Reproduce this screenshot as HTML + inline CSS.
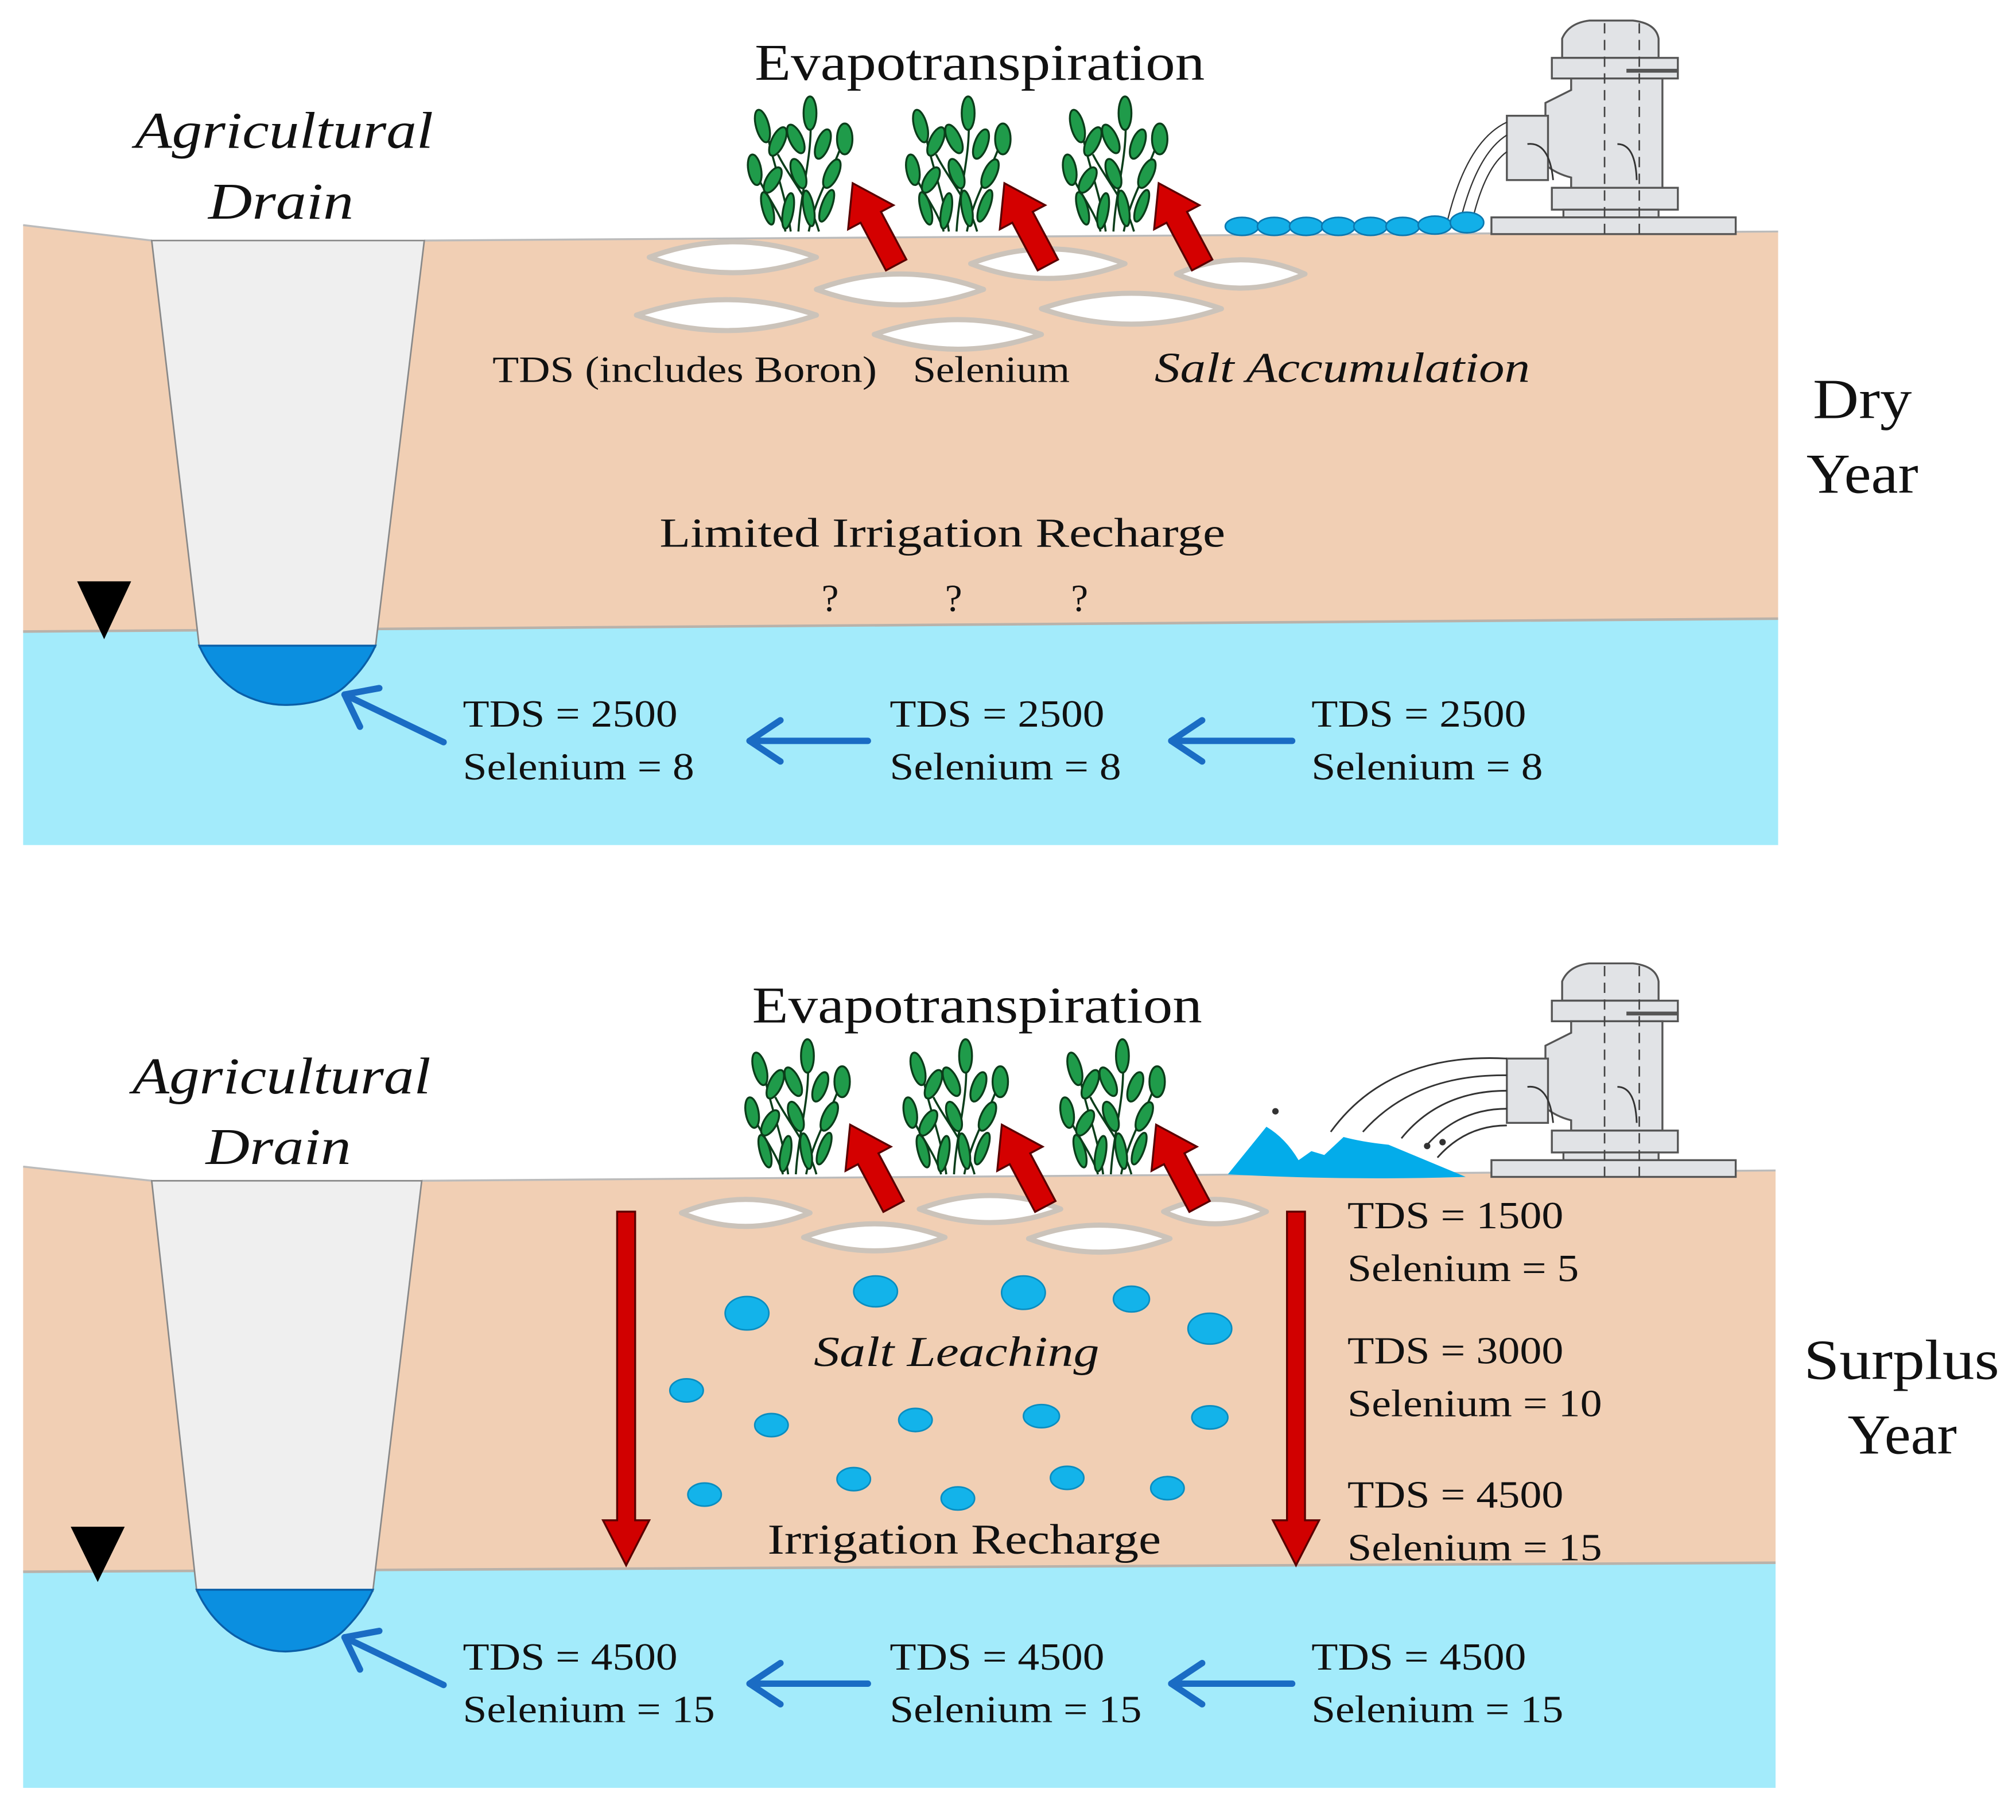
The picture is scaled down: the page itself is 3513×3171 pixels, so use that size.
<!DOCTYPE html>
<html><head><meta charset="utf-8"><style>
html,body{margin:0;padding:0;background:#fff;}
svg{display:block;}
text{font-family:"Liberation Serif","Times New Roman",serif;fill:#111;}
</style></head><body>
<svg width="3513" height="3171" viewBox="0 0 1568 1415" preserveAspectRatio="none" xmlns="http://www.w3.org/2000/svg">
<defs>
  <g id="plant">
    <g stroke="#0b3d1a" stroke-width="1.6" fill="none">
      <path d="M-10,0 C-14,-30 -25,-55 -30,-85"/>
      <path d="M-4,0 C-2,-35 8,-60 5,-95"/>
      <path d="M4,0 C10,-30 25,-50 32,-75"/>
      <path d="M-14,0 C-20,-20 -35,-35 -38,-50"/>
      <path d="M12,0 C5,-25 -10,-40 -20,-60"/>
    </g>
    <g fill="#1f9b4a" stroke="#0b3d1a" stroke-width="1.5">
      <ellipse cx="-32" cy="-82" rx="5" ry="13" transform="rotate(-15 -32 -82)"/>
      <ellipse cx="-20" cy="-70" rx="5" ry="12" transform="rotate(25 -20 -70)"/>
      <ellipse cx="5" cy="-92" rx="5" ry="13"/>
      <ellipse cx="-6" cy="-72" rx="5" ry="12" transform="rotate(-25 -6 -72)"/>
      <ellipse cx="15" cy="-68" rx="5" ry="12" transform="rotate(20 15 -68)"/>
      <ellipse cx="32" cy="-72" rx="6" ry="12"/>
      <ellipse cx="-38" cy="-48" rx="5" ry="12" transform="rotate(-10 -38 -48)"/>
      <ellipse cx="-24" cy="-40" rx="5" ry="11" transform="rotate(30 -24 -40)"/>
      <ellipse cx="-4" cy="-45" rx="5" ry="12" transform="rotate(-20 -4 -45)"/>
      <ellipse cx="22" cy="-45" rx="5" ry="12" transform="rotate(25 22 -45)"/>
      <ellipse cx="-28" cy="-18" rx="4" ry="13" transform="rotate(-15 -28 -18)"/>
      <ellipse cx="-12" cy="-16" rx="4" ry="14" transform="rotate(10 -12 -16)"/>
      <ellipse cx="4" cy="-18" rx="4" ry="14" transform="rotate(-10 4 -18)"/>
      <ellipse cx="18" cy="-20" rx="4" ry="13" transform="rotate(20 18 -20)"/>
    </g>
  </g>
  <polygon id="rarrow" points="-9,0 9,0 9,-42 20,-42 0,-72 -20,-42 -9,-42" fill="#d40000" stroke="#5a0000" stroke-width="1.5"/>
  <g id="pump" stroke="#555" stroke-width="1.5" fill="#e1e3e6">
    <path d="M1215,45 L1215,30 Q1220,18 1236,16 L1270,16 Q1288,18 1290,30 L1290,45 Z"/>
    <rect x="1207" y="45" width="98" height="16"/>
    <path d="M1222,61 L1293,61 L1293,146 L1222,146 L1222,138 Q1210,135 1202,128 L1202,80 Q1212,75 1222,70 Z"/>
    <rect x="1172" y="90" width="32" height="50"/>
    <rect x="1207" y="146" width="98" height="17"/>
    <rect x="1216" y="163" width="74" height="6"/>
    <rect x="1160" y="169" width="190" height="13"/>
    <g fill="none" stroke="#444" stroke-width="1.2" stroke-dasharray="8,5">
      <line x1="1248" y1="18" x2="1248" y2="182"/>
      <line x1="1275" y1="18" x2="1275" y2="182"/>
    </g>
    <path d="M1188,112 Q1205,110 1208,140 M1258,112 Q1272,112 1273,140" fill="none" stroke="#333" stroke-width="1.3"/>
    <line x1="1265" y1="55" x2="1305" y2="55" stroke="#555" stroke-width="3"/>
  </g>
</defs>

<!-- ===== TOP PANEL ===== -->
<polygon points="18,175 118,187 330,187 1383,180 1383,482 18,492" fill="#f1cfb4"/>
<polygon points="18,491 1383,481 1383,657 18,657" fill="#a3ebfb"/>
<line x1="18" y1="491" x2="1383" y2="481" stroke="#b9b2aa" stroke-width="2"/>
<line x1="18" y1="175" x2="118" y2="187" stroke="#bbb" stroke-width="1.5"/>
<line x1="330" y1="187" x2="1383" y2="180" stroke="#bbb" stroke-width="1.5"/>
<polygon points="118,187 330,187 292,503 155,503" fill="#efefef" stroke="#888" stroke-width="1.2"/>
<path d="M155,502 Q165,525 185,538 Q205,549 225,548 Q255,547 270,532 Q285,518 292,502 Z" fill="#0b8fe0" stroke="#0a5fa8" stroke-width="1.5"/>
<polygon points="60,452 102,452 81,497" fill="#000"/>

<!-- salt lenses top -->
<g fill="#fff" stroke="#cbc3ba" stroke-width="4" stroke-linejoin="round">
  <path d="M505,200 Q570,176 635,200 Q570,224 505,200Z"/>
  <path d="M635,225 Q700,201 765,225 Q700,249 635,225Z"/>
  <path d="M755,205 Q815,182 875,205 Q815,228 755,205Z"/>
  <path d="M915,213 Q965,191 1015,213 Q965,235 915,213Z"/>
  <path d="M495,245 Q565,221 635,245 Q565,269 495,245Z"/>
  <path d="M680,260 Q745,237 810,260 Q745,283 680,260Z"/>
  <path d="M810,240 Q880,216 950,240 Q880,264 810,240Z"/>
</g>
<use href="#plant" x="625" y="180"/>
<use href="#plant" x="748" y="180"/>
<use href="#plant" x="870" y="180"/>
<use href="#rarrow" transform="translate(697,206) rotate(-28)"/>
<use href="#rarrow" transform="translate(815,206) rotate(-28)"/>
<use href="#rarrow" transform="translate(935,206) rotate(-28)"/>
<use href="#pump"/>
<g fill="none" stroke="#333" stroke-width="1">
  <path d="M1172,95 Q1140,110 1125,175"/>
  <path d="M1172,105 Q1148,120 1135,175"/>
  <path d="M1172,118 Q1155,130 1145,172"/>
</g>
<g fill="#12afe8" stroke="#0b78b0" stroke-width="1.2">
  <ellipse cx="966" cy="176" rx="13" ry="7"/><ellipse cx="991" cy="176" rx="13" ry="7"/>
  <ellipse cx="1016" cy="176" rx="13" ry="7"/><ellipse cx="1041" cy="176" rx="13" ry="7"/>
  <ellipse cx="1066" cy="176" rx="13" ry="7"/><ellipse cx="1091" cy="176" rx="13" ry="7"/>
  <ellipse cx="1116" cy="175" rx="13" ry="7"/><ellipse cx="1141" cy="173" rx="13" ry="8"/>
</g>

<text x="587" y="62" font-size="40" textLength="350" lengthAdjust="spacingAndGlyphs">Evapotranspiration</text>
<text x="105" y="115" font-size="40" font-style="italic" textLength="232" lengthAdjust="spacingAndGlyphs">Agricultural</text>
<text x="162" y="170" font-size="40" font-style="italic" textLength="113" lengthAdjust="spacingAndGlyphs">Drain</text>
<text x="383" y="297" font-size="29" textLength="299" lengthAdjust="spacingAndGlyphs">TDS (includes Boron)</text>
<text x="710" y="297" font-size="29" textLength="122" lengthAdjust="spacingAndGlyphs">Selenium</text>
<text x="898" y="297" font-size="33" font-style="italic" textLength="292" lengthAdjust="spacingAndGlyphs">Salt Accumulation</text>
<text x="1410" y="325" font-size="44" textLength="77" lengthAdjust="spacingAndGlyphs">Dry</text>
<text x="1405" y="383" font-size="44" textLength="87" lengthAdjust="spacingAndGlyphs">Year</text>
<text x="513" y="425" font-size="32" textLength="440" lengthAdjust="spacingAndGlyphs">Limited  Irrigation Recharge</text>
<text x="639" y="475" font-size="30">?</text>
<text x="735" y="475" font-size="30">?</text>
<text x="833" y="475" font-size="30">?</text>

<g font-size="30">
<text x="360" y="565" textLength="167" lengthAdjust="spacingAndGlyphs">TDS = 2500</text>
<text x="360" y="606" textLength="180" lengthAdjust="spacingAndGlyphs">Selenium  = 8</text>
<text x="692" y="565" textLength="167" lengthAdjust="spacingAndGlyphs">TDS = 2500</text>
<text x="692" y="606" textLength="180" lengthAdjust="spacingAndGlyphs">Selenium  = 8</text>
<text x="1020" y="565" textLength="167" lengthAdjust="spacingAndGlyphs">TDS = 2500</text>
<text x="1020" y="606" textLength="180" lengthAdjust="spacingAndGlyphs">Selenium  = 8</text>
</g>
<g stroke="#1a6cc4" stroke-width="5" fill="none" stroke-linecap="round" stroke-linejoin="round">
  <line x1="345" y1="577" x2="268" y2="540"/><polyline points="280,565 268,540 295,535"/>
  <line x1="675" y1="576" x2="583" y2="576"/><polyline points="607,560 583,576 607,592"/>
  <line x1="1005" y1="576" x2="911" y2="576"/><polyline points="935,560 911,576 935,592"/>
</g>

<!-- ===== BOTTOM PANEL ===== -->
<polygon points="18,907 118,918 328,918 1381,910 1381,1215 18,1222" fill="#f1cfb4"/>
<polygon points="18,1222 1381,1215 1381,1390 18,1390" fill="#a3ebfb"/>
<line x1="18" y1="1222" x2="1381" y2="1215" stroke="#b9b2aa" stroke-width="2"/>
<line x1="18" y1="907" x2="118" y2="918" stroke="#bbb" stroke-width="1.5"/>
<line x1="328" y1="918" x2="1381" y2="910" stroke="#bbb" stroke-width="1.5"/>
<polygon points="118,918 328,918 290,1237 153,1237" fill="#efefef" stroke="#888" stroke-width="1.2"/>
<path d="M153,1236 Q163,1259 183,1272 Q203,1284 222,1284 Q252,1283 268,1267 Q283,1252 290,1236 Z" fill="#0b8fe0" stroke="#0a5fa8" stroke-width="1.5"/>
<polygon points="55,1187 97,1187 76,1230" fill="#000"/>

<g fill="#fff" stroke="#cbc3ba" stroke-width="4" stroke-linejoin="round">
  <path d="M530,943 Q580,922 630,943 Q580,964 530,943Z"/>
  <path d="M715,940 Q770,919 825,940 Q770,961 715,940Z"/>
  <path d="M905,942 Q945,923 985,942 Q945,961 905,942Z"/>
  <path d="M625,962 Q680,941 735,962 Q680,983 625,962Z"/>
  <path d="M800,963 Q855,942 910,963 Q855,984 800,963Z"/>
</g>
<use href="#plant" x="623" y="913"/>
<use href="#plant" x="746" y="913"/>
<use href="#plant" x="868" y="913"/>
<use href="#rarrow" transform="translate(695,938) rotate(-28)"/>
<use href="#rarrow" transform="translate(813,938) rotate(-28)"/>
<use href="#rarrow" transform="translate(933,938) rotate(-28)"/>
<use href="#pump" transform="translate(0,733)"/>
<g fill="none" stroke="#333" stroke-width="1.3">
  <path d="M1172,823 Q1080,818 1035,880"/>
  <path d="M1172,836 Q1100,835 1060,880"/>
  <path d="M1172,848 Q1120,848 1090,885"/>
  <path d="M1172,862 Q1135,862 1110,890"/>
  <path d="M1172,875 Q1140,875 1118,900"/>
</g>
<circle cx="992" cy="864" r="2.5" fill="#333"/>
<circle cx="1110" cy="891" r="2.5" fill="#333"/>
<circle cx="1122" cy="888" r="2.5" fill="#333"/>
<path d="M955,913 L985,876 Q1000,885 1010,902 L1020,895 L1030,898 L1045,884 Q1060,888 1080,890 L1140,915 Q1050,918 955,913Z" fill="#03acea"/>

<g fill="#13b3ea" stroke="#0a8dc0" stroke-width="1.2">
  <ellipse cx="581" cy="1021" rx="17" ry="13"/><ellipse cx="681" cy="1004" rx="17" ry="12"/>
  <ellipse cx="796" cy="1005" rx="17" ry="13"/><ellipse cx="880" cy="1010" rx="14" ry="10"/>
  <ellipse cx="941" cy="1033" rx="17" ry="12"/><ellipse cx="534" cy="1081" rx="13" ry="9"/>
  <ellipse cx="600" cy="1108" rx="13" ry="9"/><ellipse cx="712" cy="1104" rx="13" ry="9"/>
  <ellipse cx="810" cy="1101" rx="14" ry="9"/><ellipse cx="941" cy="1102" rx="14" ry="9"/>
  <ellipse cx="548" cy="1162" rx="13" ry="9"/><ellipse cx="664" cy="1150" rx="13" ry="9"/>
  <ellipse cx="745" cy="1165" rx="13" ry="9"/><ellipse cx="830" cy="1149" rx="13" ry="9"/>
  <ellipse cx="908" cy="1157" rx="13" ry="9"/>
</g>
<g fill="#d10000" stroke="#5a0000" stroke-width="1.5">
  <polygon points="480,942 494,942 494,1182 505,1182 487,1217 469,1182 480,1182"/>
  <polygon points="1001,942 1015,942 1015,1182 1026,1182 1008,1217 990,1182 1001,1182"/>
</g>

<text x="585" y="795" font-size="40" textLength="350" lengthAdjust="spacingAndGlyphs">Evapotranspiration</text>
<text x="103" y="850" font-size="40" font-style="italic" textLength="232" lengthAdjust="spacingAndGlyphs">Agricultural</text>
<text x="160" y="905" font-size="40" font-style="italic" textLength="113" lengthAdjust="spacingAndGlyphs">Drain</text>
<g font-size="30">
<text x="1048" y="955" textLength="168" lengthAdjust="spacingAndGlyphs">TDS = 1500</text>
<text x="1048" y="996" textLength="180" lengthAdjust="spacingAndGlyphs">Selenium  = 5</text>
<text x="1048" y="1060" textLength="168" lengthAdjust="spacingAndGlyphs">TDS = 3000</text>
<text x="1048" y="1101" textLength="198" lengthAdjust="spacingAndGlyphs">Selenium  = 10</text>
<text x="1048" y="1172" textLength="168" lengthAdjust="spacingAndGlyphs">TDS = 4500</text>
<text x="1048" y="1213" textLength="198" lengthAdjust="spacingAndGlyphs">Selenium  = 15</text>
<text x="360" y="1298" textLength="167" lengthAdjust="spacingAndGlyphs">TDS = 4500</text>
<text x="360" y="1339" textLength="196" lengthAdjust="spacingAndGlyphs">Selenium  = 15</text>
<text x="692" y="1298" textLength="167" lengthAdjust="spacingAndGlyphs">TDS = 4500</text>
<text x="692" y="1339" textLength="196" lengthAdjust="spacingAndGlyphs">Selenium  = 15</text>
<text x="1020" y="1298" textLength="167" lengthAdjust="spacingAndGlyphs">TDS = 4500</text>
<text x="1020" y="1339" textLength="196" lengthAdjust="spacingAndGlyphs">Selenium  = 15</text>
</g>
<text x="633" y="1062" font-size="33" font-style="italic" textLength="222" lengthAdjust="spacingAndGlyphs">Salt Leaching</text>
<text x="597" y="1208" font-size="33" textLength="306" lengthAdjust="spacingAndGlyphs">Irrigation Recharge</text>
<text x="1403" y="1072" font-size="44" textLength="152" lengthAdjust="spacingAndGlyphs">Surplus</text>
<text x="1437" y="1130" font-size="44" textLength="85" lengthAdjust="spacingAndGlyphs">Year</text>
<g stroke="#1a6cc4" stroke-width="5" fill="none" stroke-linecap="round" stroke-linejoin="round">
  <line x1="345" y1="1310" x2="268" y2="1273"/><polyline points="280,1298 268,1273 295,1268"/>
  <line x1="675" y1="1309" x2="583" y2="1309"/><polyline points="607,1293 583,1309 607,1325"/>
  <line x1="1005" y1="1309" x2="911" y2="1309"/><polyline points="935,1293 911,1309 935,1325"/>
</g>
</svg>
</body></html>
